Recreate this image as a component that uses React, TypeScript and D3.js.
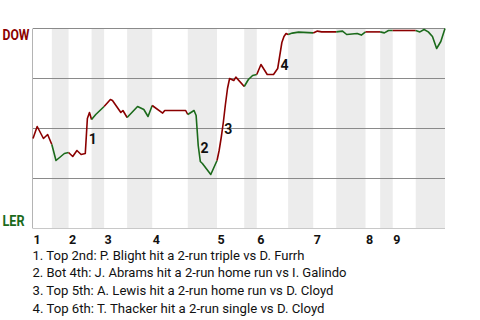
import React from "react";
import * as d3 from "d3";

// Half-inning boundaries (pitch index): top1, bot1, top2, ... bot9 end
const halfBounds = [0, 9, 17, 28, 34, 45, 57, 74, 88, 101, 107, 122, 134, 145, 159, 166, 172, 183, 197];
const inningLabels = ["1", "2", "3", "4", "5", "6", "7", "8", "9"];

// Win probability for DOW (top) at pitch index
const pitchIdx = [0, 2, 5, 7, 9, 11, 15, 17, 19, 21, 23, 25, 26, 27, 28, 30, 32, 34, 37, 38, 42, 43, 45, 50, 53, 55, 57, 62, 63, 73, 74, 77, 78, 79, 80, 81, 85, 88, 89, 90, 91, 92, 93, 94, 96, 97, 101, 103, 105, 107, 109, 112, 115, 117, 118, 119, 120, 121, 122, 124, 127, 134, 136, 138, 145, 148, 150, 155, 157, 159, 166, 168, 170, 172, 183, 185, 187, 189, 191, 193, 195, 197];
const winProb = [0.45, 0.51, 0.45, 0.47, 0.42, 0.34, 0.375, 0.38, 0.36, 0.39, 0.37, 0.375, 0.55, 0.58, 0.545, 0.57, 0.59, 0.61, 0.645, 0.64, 0.58, 0.59, 0.555, 0.61, 0.595, 0.56, 0.615, 0.577, 0.59, 0.59, 0.57, 0.59, 0.565, 0.415, 0.335, 0.325, 0.27, 0.34, 0.39, 0.455, 0.53, 0.62, 0.7, 0.75, 0.74, 0.757, 0.71, 0.745, 0.765, 0.77, 0.82, 0.77, 0.77, 0.8, 0.865, 0.93, 0.96, 0.975, 0.97, 0.977, 0.982, 0.978, 0.987, 0.983, 0.983, 0.987, 0.97, 0.975, 0.967, 0.983, 0.983, 0.978, 0.99, 0.99, 0.99, 0.983, 0.995, 0.983, 0.96, 0.9, 0.935, 1.0];

const gridValues = [0.25, 0.5, 0.75, 1];

// Scoring-play markers: number, position (pitch index, win prob)
const markNums = ["1", "2", "3", "4"];
const markIdx = [26.6, 80.1, 91.5, 118.4];
const markProb = [0.4225, 0.38, 0.4725, 0.795];

const notes = [
  "1. Top 2nd: P. Blight hit a 2-run triple vs D. Furrh",
  "2. Bot 4th: J. Abrams hit a 2-run home run vs I. Galindo",
  "3. Top 5th: A. Lewis hit a 2-run home run vs D. Cloyd",
  "4. Top 6th: T. Thacker hit a 2-run single vs D. Cloyd",
];
const noteWidths = [272, 314, 301, 292];

const awayTeam = "DOW";
const homeTeam = "LER";

const RED = "#8b0000";
const GREEN = "#1b6a1b";

export default function App() {
  const x = d3.scaleLinear().domain([0, 197]).range([33, 445]);
  const y = d3.scaleLinear().domain([0, 1]).range([228.5, 28.5]);
  const pts = pitchIdx.map((p, i) => [p, winProb[i]] as [number, number]);
  const line = d3
    .line<[number, number]>()
    .x((d) => x(d[0]))
    .y((d) => y(d[1]));

  const halves = d3.range(halfBounds.length - 1).map((h) => ({
    h,
    s: halfBounds[h],
    e: halfBounds[h + 1],
  }));

  const font = "Roboto, 'Noto Sans', sans-serif";

  return (
    <svg
      width={480}
      height={320}
      style={{ position: "absolute", left: 0, top: 0, background: "#fff" }}
      fontFamily={font}
    >
      {halves
        .filter((d) => d.h % 2 === 1)
        .map((d) => (
          <rect
            key={"b" + d.h}
            x={x(d.s)}
            y={y(1)}
            width={x(d.e) - x(d.s)}
            height={y(0) - y(1)}
            fill="#ececec"
          />
        ))}
      {gridValues.map((g) => (
        <line key={g} x1={x(0)} x2={x(197)} y1={y(g)} y2={y(g)} stroke="#8a8a8a" strokeWidth={1} />
      ))}
      <line x1={x(0)} x2={x(197)} y1={y(0)} y2={y(0)} stroke="#c8c8c8" strokeWidth={1} />
      <line x1={x(0) - 0.5} x2={x(0) - 0.5} y1={y(1)} y2={y(0)} stroke="#b4b4b4" strokeWidth={1} />

      {halves.map((d) => (
        <path
          key={"l" + d.h}
          d={line(pts.filter((p) => p[0] >= d.s && p[0] <= d.e)) || ""}
          fill="none"
          stroke={d.h % 2 === 0 ? RED : GREEN}
          strokeWidth={1.6}
          strokeLinejoin="round"
        />
      ))}

      {markNums.map((m, i) => (
        <text
          key={"m" + m}
          x={x(markIdx[i])}
          y={y(markProb[i])}
          fontSize={14}
          fontWeight="bold"
          fill="#111"
        >
          {m}
        </text>
      ))}

      <text x={2.5} y={40} fontSize={14} fontWeight="bold" fill={RED} textLength={27} lengthAdjust="spacingAndGlyphs">
        {awayTeam}
      </text>
      <text x={2.5} y={226} fontSize={15} fontWeight="bold" fill={GREEN} textLength={22} lengthAdjust="spacingAndGlyphs">
        {homeTeam}
      </text>

      {inningLabels.map((l, i) => (
        <text key={"i" + l} x={x(halfBounds[i * 2]) + 0.5} y={243.5} fontSize={12.5} fontWeight="bold" fill="#111">
          {l}
        </text>
      ))}

      {notes.map((n, i) => (
        <text
          key={"n" + i}
          x={32.5}
          y={259.5 + i * 17.8}
          fontSize={13}
          fill="#111"
          textLength={noteWidths[i]}
          lengthAdjust="spacingAndGlyphs"
        >
          {n}
        </text>
      ))}
    </svg>
  );
}
